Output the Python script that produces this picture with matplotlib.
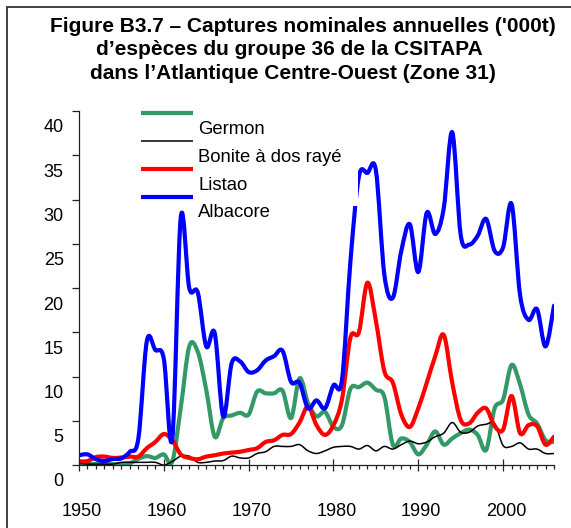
import matplotlib
matplotlib.use("Agg")
import matplotlib.pyplot as plt
from matplotlib.path import Path
from matplotlib.patches import PathPatch, Rectangle
from matplotlib.lines import Line2D
from matplotlib.transforms import ScaledTranslation
from matplotlib.ticker import MultipleLocator

plt.rcParams["font.family"] = ["Liberation Sans", "DejaVu Sans"]

years = list(range(1950, 2007))

germon = [0.1, 0.1, 0.1, 0.1, 0.1, 0.1, 0.2, 0.7, 1.0, 0.8,
          1.2, 0.4, 6.5, 13.4, 12.8, 8.5, 3.2, 5.3, 5.6, 5.9,
          5.7, 8.3, 8.1, 8.1, 8.4, 5.3, 9.8, 7.0, 5.5, 6.0,
          4.3, 4.5, 8.6, 8.8, 9.3, 8.5, 7.7, 2.3, 3.0, 2.6,
          1.2, 2.3, 3.8, 2.3, 3.0, 3.6, 4.0, 3.4, 1.7, 6.4,
          7.4, 11.3, 9.1, 5.7, 4.7, 2.8, 2.6]
bonite = [0.2, 0.1, 0.1, 0.1, 0.1, 0.3, 0.3, 0.3, 0.3, 0.3,
          0.0, 0.4, 1.0, 1.0, 0.3, 0.3, 0.45, 0.5, 1.0, 0.8,
          0.8, 1.3, 1.5, 2.1, 2.1, 2.1, 2.3, 1.6, 1.3, 1.6,
          2.0, 2.1, 2.1, 1.8, 2.2, 1.6, 2.1, 1.8, 2.3, 2.7,
          2.4, 2.6, 3.2, 3.6, 4.8, 3.7, 3.7, 4.4, 4.6, 4.7,
          2.2, 2.1, 2.5, 1.8, 1.8, 1.3, 1.3]
listao = [0.4, 0.45, 0.9, 0.95, 0.8, 0.85, 0.95, 0.95, 1.9, 2.6,
          3.5, 2.8, 1.2, 0.8, 0.65, 0.95, 1.1, 1.3, 1.4, 1.5,
          1.7, 1.9, 2.6, 2.8, 3.4, 3.5, 4.8, 6.6, 4.5, 3.4,
          4.5, 7.4, 14.4, 15.0, 20.6, 16.3, 10.6, 9.3, 5.7, 4.3,
          6.4, 9.3, 12.3, 14.7, 9.3, 5.1, 4.7, 5.9, 6.4, 4.4,
          4.0, 7.8, 3.6, 4.5, 4.4, 2.3, 3.2]
albacore = [1.1, 1.2, 0.65, 0.45, 0.68, 0.75, 1.5, 3.0, 14.0, 13.0,
            12.0, 3.0, 28.0, 20.0, 19.5, 13.4, 14.9, 5.5, 11.5, 11.7,
            10.5, 10.7, 11.8, 12.3, 12.9, 9.4, 9.3, 6.4, 7.3, 6.4,
            9.0, 9.6, 23.0, 32.6, 33.0, 33.3, 21.5, 18.9, 24.2, 27.2,
            21.8, 28.5, 26.1, 29.0, 37.6, 26.0, 24.9, 25.9, 27.8, 24.2,
            24.6, 29.5, 19.2, 16.4, 17.6, 13.4, 18.0]

names = ["Germon", "Bonite à dos rayé", "Listao", "Albacore"]
series = [germon, bonite, listao, albacore]
colors = ["#339966", "black", "#ff0000", "#0000ff"]
widths = [3.0, 1.1, 3.0, 3.0]

W, H = 571, 528


def fx(px):
    return px / W


def fy(py):
    return 1 - py / H


def smooth_path(x, y):
    # Excel-style smoothed line: Catmull-Rom through the yearly points
    pts = list(zip(x, y))
    verts = [pts[0]]
    codes = [Path.MOVETO]
    n = len(pts)
    for i in range(n - 1):
        p0 = pts[max(i - 1, 0)]
        p1 = pts[i]
        p2 = pts[i + 1]
        p3 = pts[min(i + 2, n - 1)]
        c1 = (p1[0] + (p2[0] - p0[0]) / 6, p1[1] + (p2[1] - p0[1]) / 6)
        c2 = (p2[0] - (p3[0] - p1[0]) / 6, p2[1] - (p3[1] - p1[1]) / 6)
        verts += [c1, c2, p2]
        codes += [Path.CURVE4] * 3
    return Path(verts, codes)


fig = plt.figure(figsize=(W / 100, H / 100), dpi=100)
ax = fig.add_axes([fx(79), fy(465), fx(554) - fx(79), fy(111) - fy(465)])

for vals, c, lw in zip(series, colors, widths):
    ax.add_patch(PathPatch(smooth_path(years, vals), fill=False,
                           edgecolor=c, lw=lw, capstyle="round",
                           joinstyle="round"))

ax.set_xlim(1950, 2006)
ax.set_ylim(0, 40)
for s in ["top", "right"]:
    ax.spines[s].set_visible(False)
for s in ["left", "bottom"]:
    ax.spines[s].set_color("#222222")
    ax.spines[s].set_linewidth(0.9)

ax.set_xticks(range(1950, 2001, 10))
ax.xaxis.set_minor_locator(MultipleLocator(1))
ax.set_yticks(range(0, 41, 5))
ax.tick_params(axis="x", which="major", direction="inout", length=8.5,
               width=0.9, pad=23, labelsize=13, color="#222222")
ax.tick_params(axis="x", which="minor", direction="out", length=3,
               width=0.9, color="#222222")
ax.tick_params(axis="y", direction="out", length=5, width=0.9, pad=6,
               labelsize=13, color="#222222")

offset = ScaledTranslation(0, -0.15, fig.dpi_scale_trans)
for lab in ax.yaxis.get_majorticklabels():
    lab.set_transform(lab.get_transform() + offset)
xoff = ScaledTranslation(0.03, 0, fig.dpi_scale_trans)
for lab in ax.xaxis.get_majorticklabels():
    lab.set_transform(lab.get_transform() + xoff)

# white legend box hiding the lines behind it
ax.add_patch(Rectangle((fx(135), fy(206)), fx(358) - fx(135),
                       fy(105) - fy(206), transform=fig.transFigure,
                       facecolor="white", edgecolor="none", zorder=5,
                       clip_on=False))

line_y = [113, 141, 169, 197]
text_y = [129, 157, 185, 213]
for name, c, lw, ly, ty in zip(names, colors, widths, line_y, text_y):
    fig.add_artist(Line2D([fx(141), fx(193)], [fy(ly), fy(ly)], color=c,
                          lw=lw, solid_capstyle="butt", zorder=6))
    fig.text(fx(198), fy(ty), name, fontsize=13.3, va="center", ha="left",
             zorder=6)

title_lines = ["Figure B3.7 \u2013 Captures nominales annuelles ('000t)",
               "d\u2019esp\u00e8ces du groupe 36 de la CSITAPA",
               "dans l\u2019Atlantique Centre-Ouest (Zone 31)"]
title_x = [303, 289, 292.5]
title_base = [32, 55, 79]
for t, x, b in zip(title_lines, title_x, title_base):
    fig.text(fx(x), fy(b), t, fontsize=15, fontweight="bold",
             ha="center", va="baseline")

# frame around the figure (cut off at right and bottom)
fig.add_artist(Rectangle((fx(7), -0.2), 1.5, fy(7) + 0.2,
                         transform=fig.transFigure, fill=False,
                         edgecolor="#333333", lw=1.3))

fig.savefig("out.png", dpi=100)
